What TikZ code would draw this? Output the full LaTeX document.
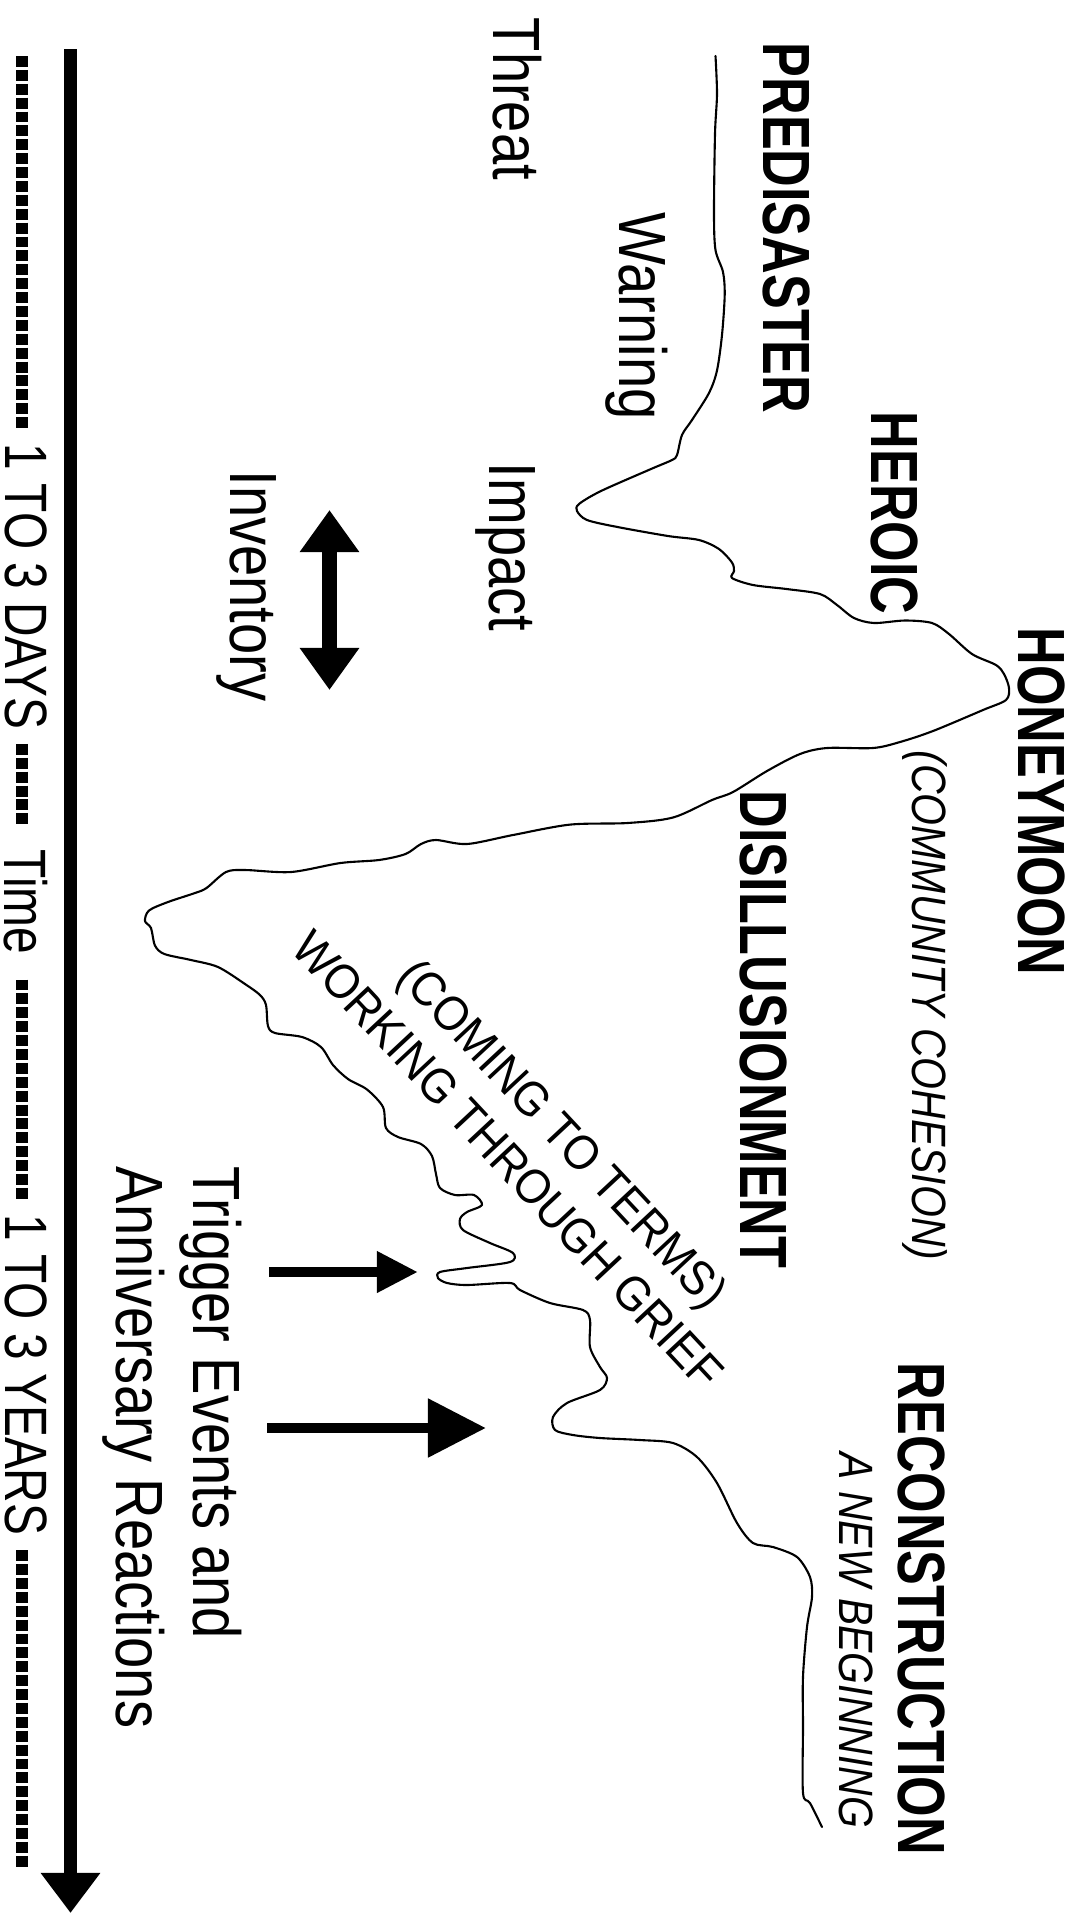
\documentclass[tikz,border=0pt]{standalone}
\usepackage{fontspec}
\usetikzlibrary{arrows.meta}
\newfontfamily\headfont[FakeStretch=0.78]{Liberation Sans}
\newfontfamily\labelfont[FakeStretch=0.84]{Liberation Sans}
\newfontfamily\notefont[FakeStretch=0.85]{Liberation Sans}
\newfontfamily\axisfont[FakeStretch=0.80]{Liberation Sans}
\newfontfamily\griefont[FakeStretch=0.92]{Liberation Sans}
\tikzset{
  stagelabel/.style={font=\headfont\bfseries\fontsize{19pt}{22pt}\selectfont,
                     rotate=-90,anchor=base west,inner sep=0pt},
  phaselabel/.style={font=\labelfont\fontsize{19pt}{21.9pt}\selectfont,
                     rotate=-90,anchor=base west,inner sep=0pt},
  notelabel/.style={font=\notefont\itshape\fontsize{13.7pt}{16pt}\selectfont,
                    rotate=-90,anchor=base west,inner sep=0pt},
  grieflabel/.style={font=\griefont\fontsize{13.8pt}{16pt}\selectfont,
                     rotate=-47,inner sep=0pt},
  timelabel/.style={font=\axisfont\fontsize{17pt}{20pt}\selectfont,
                    rotate=-90,inner xsep=4pt,inner ysep=0pt},
  timedash/.style={line width=3.4pt,dash pattern=on 3.1pt off 0.85pt},
  timeaxis/.style={line width=3.7pt,-{Triangle[width=16.2pt,length=11.4pt]}},
  stresscurve/.style={line width=0.6pt,line join=round,line cap=round},
}
\begin{document}
\begin{tikzpicture}[x=0.01cm,y=-0.01cm]
  \useasboundingbox (0,0) rectangle (1080,1914);
  \coordinate (AxTop)  at (70.5,49);
  \coordinate (AxTip)  at (70.5,1913);
  \coordinate (DTop)   at (22,56);
  \coordinate (DBot)   at (22,1867);
  \coordinate (InvTop) at (329.5,510);
  \coordinate (InvBot) at (329.5,690);
  \coordinate (TrgA)   at (269,1272);
  \coordinate (TrgAT)  at (418,1272);
  \coordinate (TrgB)   at (267,1428);
  \coordinate (TrgBT)  at (486,1428);

  % PHASE CURVE
  \draw[stresscurve] plot[smooth,tension=0.5] coordinates {
    (715.5,56) (717,94) (715,134) (714,214) (715.5,250) (723,272) (724.7,295)
    (722,335) (717,370.5) (709,393) (692,420) (682,435) (677,455) (672,460)
    (651,469) (601,491) (579,504) (577,511) (587,520) (617.5,527) (668,536)
    (699,540) (719,549) (732,562.5) (734,571) (732,578) (753,585) (786.5,589)
    (820,594) (837,605) (854,618) (874,623) (905,620.5) (932,623) (949,634)
    (972,654) (996,665) (1004,674) (1009,688) (1006,700) (983,710) (933,731)
    (900,742) (873,748) (827,748) (800,754) (767,771) (733,792) (712,800)
    (673,817.5) (627.5,823) (570,824.6) (513,835) (467,844) (436,840) (421,844)
    (405.5,854) (379,860) (340.5,863) (291,872) (245,870) (226,872) (206.5,888)
    (195,893) (168,902) (149,910.5) (145,921) (151,928) (155,945.6) (164.4,954)
    (191,960) (218,967) (245,984) (260,995) (266,1005) (268,1026) (275,1033)
    (302,1037) (321,1047) (333,1065) (348,1079) (367,1089.5) (383,1107)
    (386,1128) (398,1137) (421,1144) (432,1156) (436,1174) (440,1188) (455,1195)
    (474,1195) (482,1205) (467,1212) (460,1219) (463,1230) (490,1243) (513,1253)
    (510,1262) (467,1268) (440,1272) (438,1278) (447,1283) (467,1285) (510,1283)
    (520,1290) (550,1303) (583,1310) (590,1320) (590,1347) (600,1367) (607,1378)
    (600,1390) (567,1403) (553,1417) (555,1430) (573,1435) (600,1438) (640,1440)
    (673,1443) (697,1457) (717,1483) (737,1523) (753,1543) (773,1547) (797,1557)
    (810,1577) (812,1597) (807,1627) (803,1677) (803,1727) (803,1793) (810,1803)
    (822,1827)};

  % STAGES
  \node[stagelabel] (predis) at (763,42)   {PREDISASTER};
  \node[stagelabel] (heroic) at (871,411)  {HEROIC};
  \node[stagelabel] (honey)  at (1018,627) {HONEYMOON};
  \node[stagelabel] (disill) at (740,790)  {DISILLUSIONMENT};
  \node[stagelabel] (recon)  at (898,1362) {RECONSTRUCTION};
  \node[notelabel]  (cohes)  at (912,750)  {(COMMUNITY COHESION)};
  \node[notelabel]  (newbeg) at (839,1452) {A NEW BEGINNING};
  \node[grieflabel] (terms)  at (560,1136) {(COMING TO TERMS)};
  \node[grieflabel] (grief)  at (508,1160) {WORKING THROUGH GRIEF};

  % PHASES
  \node[phaselabel] (threat)  at (493,17)  {Threat};
  \node[phaselabel] (warning) at (619,212) {Warning};
  \node[phaselabel] (impact)  at (489,462) {Impact};
  \node[phaselabel] (invent)  at (230,470) {Inventory};
  \node[phaselabel,anchor=north west,align=left] (trigger) at (243,1166)
       {Trigger Events and\\Anniversary Reactions};

  % ARROWS
  \draw[line width=4.3pt,{Triangle[width=16.2pt,length=12pt]}-{Triangle[width=16.2pt,length=12pt]}]
       (InvTop) -- (InvBot);
  \draw[line width=2.85pt,-{Triangle[width=11.1pt,length=11.7pt]}] (TrgA) -- (TrgAT);
  \draw[line width=3.1pt,-{Triangle[width=16pt,length=16.5pt]}] (TrgB) -- (TrgBT);

  % TIME AXIS
  \draw[timeaxis] (AxTop) -- (AxTip);
  \node[timelabel] (days)  at (26,586.5) {1 TO 3 DAYS};
  \node[timelabel,inner xsep=7pt] (time) at (26,902) {Time};
  \node[timelabel] (years) at (26,1375)  {1 TO 3 YEARS};
  \draw[timedash] (DTop) -- (days.west -| DTop);
  \draw[timedash] (days.east -| DTop) -- (time.west -| DTop);
  \draw[timedash] (time.east -| DTop) -- (years.west -| DTop);
  \draw[timedash] (years.east -| DTop) -- (DBot);
\end{tikzpicture}
\end{document}
